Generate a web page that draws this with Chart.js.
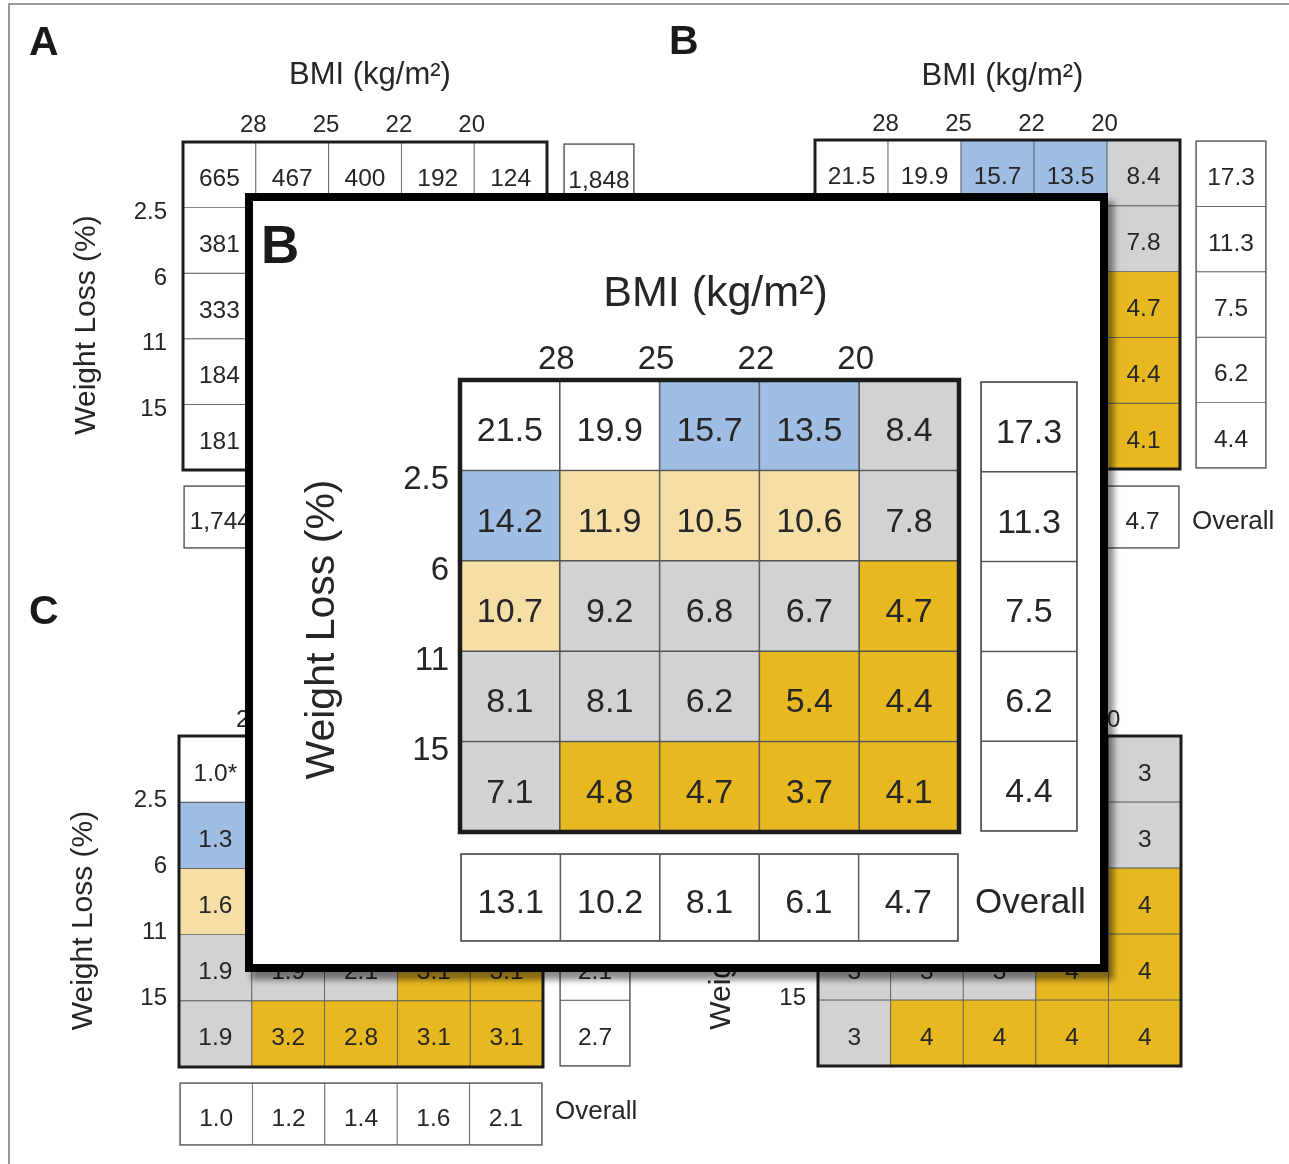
<!DOCTYPE html>
<html>
<head>
<meta charset="utf-8">
<script src="https://cdn.jsdelivr.net/npm/chart.js@4.4.1/dist/chart.umd.min.js"></script>
<style>
html,body{margin:0;padding:0;background:#fff;}
#stage{position:relative;width:1289px;height:1164px;overflow:hidden;background:#fff;}
#stage canvas{position:absolute;left:0;top:0;}
#frame{position:absolute;left:8px;top:3px;width:1320px;height:1220px;border-left:2px solid #9a9a9a;border-top:2px solid #9a9a9a;}
#inset{position:absolute;left:245px;top:193px;width:863px;height:779px;box-sizing:border-box;border:8px solid #000;background:#fff;box-shadow:6px 8px 6px rgba(0,0,0,0.45);z-index:5;}
</style>
</head>
<body>
<div id="stage"><div id="frame"></div><div id="inset"></div></div>
<script>
// ---------- data ----------
const bmiTicks = ['28', '25', '22', '20'];
const lossTicks = ['2.5', '6', '11', '15'];
const bmiTitle = 'BMI (kg/m²)';
const lossTitle = 'Weight Loss (%)';
const overallLabel = 'Overall';

// Panel A: patient counts (cells hidden behind the inset are unknown -> null)
const aCounts = [
  [665, 467, 400, 192, 124],
  [381, null, null, null, null],
  [333, null, null, null, null],
  [184, null, null, null, null],
  [181, null, null, null, null]
];
const aRowTotals = [1848, null, null, null, null];
const aColTotals = [1744, null, null, null, null];

// Panel B: rates
const bRates = [
  [21.5, 19.9, 15.7, 13.5, 8.4],
  [14.2, 11.9, 10.5, 10.6, 7.8],
  [10.7, 9.2, 6.8, 6.7, 4.7],
  [8.1, 8.1, 6.2, 5.4, 4.4],
  [7.1, 4.8, 4.7, 3.7, 4.1]
];
const bClasses = [
  ['w', 'w', 'b', 'b', 'g'],
  ['b', 'y', 'y', 'y', 'g'],
  ['y', 'g', 'g', 'g', 'o'],
  ['g', 'g', 'g', 'o', 'o'],
  ['g', 'o', 'o', 'o', 'o']
];
const bRowTotals = [17.3, 11.3, 7.5, 6.2, 4.4];
const bColTotals = [13.1, 10.2, 8.1, 6.1, 4.7];

// Panel C: rates
const cRates = [
  [1.0, null, null, null, null],
  [1.3, null, null, null, null],
  [1.6, null, null, null, null],
  [1.9, 1.9, 2.1, 3.1, 3.1],
  [1.9, 3.2, 2.8, 3.1, 3.1]
];
const cMarks = [['*']];
const cClasses = [
  ['w', 'w', 'w', 'w', 'w'],
  ['b', 'w', 'w', 'w', 'w'],
  ['y', 'w', 'w', 'w', 'w'],
  ['g', 'g', 'g', 'o', 'o'],
  ['g', 'o', 'o', 'o', 'o']
];
const cRowTotals = [null, null, null, 2.1, 2.7];
const cColTotals = [1.0, 1.2, 1.4, 1.6, 2.1];

// Panel D: scores
const dScores = [
  [null, null, null, null, 3],
  [null, null, null, null, 3],
  [null, null, null, null, 4],
  [3, 3, 3, 4, 4],
  [3, 4, 4, 4, 4]
];
const dClasses = [
  ['w', 'w', 'w', 'w', 'g'],
  ['w', 'w', 'w', 'w', 'g'],
  ['w', 'w', 'w', 'w', 'o'],
  ['g', 'g', 'g', 'o', 'o'],
  ['g', 'o', 'o', 'o', 'o']
];

// ---------- styles ----------
const palette = { w: '#ffffff', b: '#a0bde3', y: '#f6dfa6', g: '#d1d2d4', o: '#e8b820' };
const FONT = '"Liberation Sans", Arial, Helvetica, sans-serif';
const W = 1289, H = 1164;
const SMALL = { cell: 24.5, tick: 24, title: 31, ytitle: 30, label: 41, overall: 26, line: 0.8, lineColor: '#5a5a5a', frame: 3, frameColor: '#1c1c1c', side: 1.3, sideColor: '#5a5a5a' };
const BIG = { cell: 34, tick: 33, title: 43, ytitle: 41, label: 53, overall: 35, line: 1.1, lineColor: '#555', frame: 4.5, frameColor: '#1c1c1c', side: 1.7, sideColor: '#5a5a5a' };

const fmtCount = n => String(n).replace(/\B(?=(\d{3})+(?!\d))/g, ',');
const fmt1 = n => n.toFixed(1);
const fmt0 = n => String(n);

const stage = document.getElementById('stage');

function makeDecor(cfg) {
  return {
    id: 'decor',
    afterDatasetsDraw(chart) {
      const ctx = chart.ctx, ca = chart.chartArea;
      const xs = chart.scales.x, ys = chart.scales.y;
      const sz = cfg.sz;
      ctx.save();
      // cell values
      ctx.fillStyle = '#262626';
      ctx.textAlign = 'center';
      ctx.textBaseline = 'alphabetic';
      ctx.font = `${sz.cell}px ${FONT}`;
      cfg.values.forEach((row, r) => {
        const meta = chart.getDatasetMeta(r);
        row.forEach((v, c) => {
          if (v === null || v === undefined) return;
          const el = meta.data[c];
          const cy = (el.y + el.base) / 2;
          const mark = (cfg.marks && cfg.marks[r] && cfg.marks[r][c]) || '';
          ctx.fillText(cfg.fmt(v) + mark, el.x, cy + sz.cell * 0.47);
        });
      });
      // frame
      ctx.lineWidth = cfg.frameW;
      ctx.strokeStyle = cfg.frameColor;
      ctx.strokeRect(ca.left, ca.top, ca.right - ca.left, ca.bottom - ca.top);

      ctx.fillStyle = '#262626';
      if (cfg.xTicks) {
        const t = cfg.xTicks;
        ctx.font = `${sz.tick}px ${FONT}`;
        ctx.textAlign = 'center';
        t.labels.forEach((lab, i) => {
          const bx = (xs.getPixelForValue(i) + xs.getPixelForValue(i + 1)) / 2;
          ctx.fillText(lab, bx + t.dx, t.y);
        });
      }
      if (cfg.yTicks) {
        const t = cfg.yTicks;
        ctx.font = `${sz.tick}px ${FONT}`;
        ctx.textAlign = 'right';
        t.labels.forEach((lab, i) => {
          const by = ys.getPixelForValue(i + 1);
          ctx.fillText(lab, t.right, by + t.dy + sz.tick * 0.358);
        });
      }
      if (cfg.xTitle) {
        const t = cfg.xTitle;
        ctx.font = `${sz.title}px ${FONT}`;
        ctx.textAlign = 'center';
        ctx.fillText(t.text, (ca.left + ca.right) / 2 + t.dx, t.y);
      }
      if (cfg.yTitle) {
        const t = cfg.yTitle;
        ctx.save();
        ctx.font = `${sz.ytitle}px ${FONT}`;
        ctx.textAlign = 'center';
        ctx.textBaseline = 'middle';
        ctx.translate(t.x, (ca.top + ca.bottom) / 2 + t.dy);
        ctx.rotate(-Math.PI / 2);
        ctx.fillText(t.text, 0, 0);
        ctx.restore();
      }
      if (cfg.label) {
        const t = cfg.label;
        ctx.font = `bold ${sz.label}px ${FONT}`;
        ctx.textAlign = 'left';
        ctx.fillStyle = '#1a1a1a';
        ctx.fillText(t.text, t.x, t.y);
      }
      if (cfg.side) {
        const t = cfg.side;
        ctx.font = `${sz.overall}px ${FONT}`;
        ctx.textAlign = 'left';
        ctx.fillStyle = '#262626';
        ctx.fillText(t.text, ca.right + t.gap, (ca.top + ca.bottom) / 2 + t.dy + sz.overall * 0.358);
      }
      ctx.restore();
    }
  };
}

function grid(rect, values, classes, fmt, marks, sz, isSide, z, extra) {
  const canvas = document.createElement('canvas');
  canvas.width = W; canvas.height = H;
  canvas.style.zIndex = z;
  stage.appendChild(canvas);
  const nr = values.length;
  const datasets = values.map((row, r) => ({
    data: row.map(() => 1),
    backgroundColor: row.map((v, c) => palette[classes ? classes[r][c] : 'w']),
    borderColor: sz.lineColor,
    borderWidth: sz.line,
    borderSkipped: false,
    barPercentage: 1,
    categoryPercentage: 1
  }));
  const cfg = Object.assign({
    values, fmt, marks, sz,
    frameW: isSide ? sz.side : sz.frame,
    frameColor: isSide ? sz.sideColor : sz.frameColor
  }, extra || {});
  new Chart(canvas, {
    type: 'bar',
    data: { labels: values[0].map((_, i) => 'c' + i), datasets },
    options: {
      responsive: false,
      animation: false,
      devicePixelRatio: 1,
      events: [],
      layout: { padding: { left: rect[0], top: rect[1], right: W - rect[2], bottom: H - rect[3] } },
      plugins: { legend: { display: false }, tooltip: { enabled: false }, title: { display: false } },
      scales: {
        x: { display: false, stacked: true, offset: true },
        y: { display: false, stacked: true, min: 0, max: nr, reverse: true }
      }
    },
    plugins: [makeDecor(cfg)]
  });
}

function panel(d) {
  const sz = d.sz;
  grid(d.main, d.values, d.classes, d.fmt, d.marks, sz, false, d.z, {
    xTicks: { labels: bmiTicks, y: d.tickY, dx: d.tickDx },
    yTicks: { labels: lossTicks, right: d.yTickRight, dy: d.yTickDy },
    xTitle: { text: bmiTitle, y: d.titleY, dx: d.titleDx },
    yTitle: { text: lossTitle, x: d.yTitleX, dy: d.yTitleDy },
    label: { text: d.label, x: d.labelX, y: d.labelY }
  });
  if (d.rowTotals) grid(d.rightRect, d.rowTotals.map(v => [v]), null, d.fmt, null, sz, true, d.z, {});
  if (d.colTotals) grid(d.bottomRect, [d.colTotals], null, d.fmt, null, sz, true, d.z, {
    side: { text: overallLabel, gap: d.overallGap, dy: d.overallDy }
  });
}

// Panel A
panel({
  z: 1, sz: SMALL, label: 'A', labelX: 29, labelY: 55,
  main: [183, 142, 547, 470], values: aCounts, classes: null, fmt: fmtCount,
  tickY: 132, tickDx: -2.5, yTickRight: 167, yTickDy: 3,
  titleY: 84, titleDx: 5, yTitleX: 87, yTitleDy: 19,
  rowTotals: aRowTotals, rightRect: [564, 144, 634, 470],
  colTotals: aColTotals, bottomRect: [184, 486, 547, 548], overallGap: 13, overallDy: 2
});
// Panel B (background)
panel({
  z: 1, sz: SMALL, label: 'B', labelX: 669, labelY: 54,
  main: [815, 140, 1180, 469], values: bRates, classes: bClasses, fmt: fmt1,
  tickY: 131, tickDx: -2.5, yTickRight: 799, yTickDy: 3,
  titleY: 84.5, titleDx: 5, yTitleX: 719, yTitleDy: 19,
  rowTotals: bRowTotals, rightRect: [1196, 141, 1266, 468],
  colTotals: bColTotals, bottomRect: [815, 486, 1179, 548], overallGap: 13, overallDy: 2.5
});
// Panel C
panel({
  z: 1, sz: SMALL, label: 'C', labelX: 29, labelY: 624,
  main: [179, 736, 543, 1067], values: cRates, classes: cClasses, fmt: fmt1, marks: cMarks,
  tickY: 727, tickDx: -2.5, yTickRight: 167, yTickDy: -4,
  titleY: 678, titleDx: 5, yTitleX: 84, yTitleDy: 19,
  rowTotals: cRowTotals, rightRect: [560, 737, 630, 1066],
  colTotals: cColTotals, bottomRect: [180, 1083, 542, 1145], overallGap: 13, overallDy: -4
});
// Panel D
panel({
  z: 1, sz: SMALL, label: 'D', labelX: 669, labelY: 624,
  main: [818, 736, 1181, 1066], values: dScores, classes: dClasses, fmt: fmt0,
  tickY: 727, tickDx: -1.5, yTickRight: 806, yTickDy: -4,
  titleY: 678, titleDx: 5, yTitleX: 722, yTitleDy: 19
});
// Inset: enlarged panel B
panel({
  z: 6, sz: BIG, label: 'B', labelX: 261, labelY: 263,
  main: [460, 380, 959, 832], values: bRates, classes: bClasses, fmt: fmt1,
  tickY: 369, tickDx: -3.5, yTickRight: 449, yTickDy: 7,
  titleY: 306, titleDx: 6, yTitleX: 323, yTitleDy: 23.5,
  rowTotals: bRowTotals, rightRect: [981, 382, 1077, 831],
  colTotals: bColTotals, bottomRect: [461, 854, 958, 941], overallGap: 17, overallDy: 3
});
</script>
</body>
</html>
